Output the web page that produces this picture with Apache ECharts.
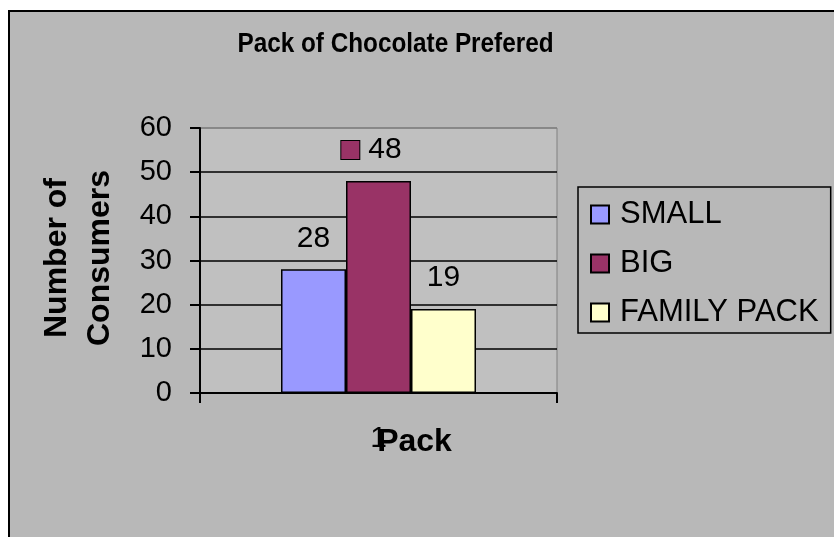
<!DOCTYPE html>
<html>
<head>
<meta charset="utf-8">
<title>Pack of Chocolate Prefered</title>
<script src="https://cdn.jsdelivr.net/npm/echarts@6/dist/echarts.min.js"></script>
<style>
  html, body { margin: 0; padding: 0; background: #ffffff; }
  #chart { width: 834px; height: 537px; }
</style>
</head>
<body>
<div id="chart"></div>
<script>
// Survey results: preferred pack size of chocolate
const categories = ['1'];
const seriesNames = ['SMALL', 'BIG', 'FAMILY PACK'];
const smallValues = [28];
const bigValues = [48];
const familyPackValues = [19];
const seriesColors = ['#9999FF', '#993366', '#FFFFCC'];
const yMin = 0, yMax = 60, yStep = 10;

const FONT = "'Liberation Sans', Arial, sans-serif";

const chart = echarts.init(document.getElementById('chart'), null, { renderer: 'canvas' });

const valueLabel = {
  show: true,
  position: 'top',
  distance: 16,
  color: '#000',
  fontFamily: FONT,
  fontSize: 30
};

function barSeries(name, values, color, label) {
  return {
    name: name,
    type: 'bar',
    data: values,
    barWidth: 65,
    barGap: '0%',
    itemStyle: { color: color, borderColor: '#000', borderWidth: 1.5 },
    label: label,
    emphasis: { disabled: true }
  };
}

// The BIG label carries its legend key in front of the value
const bigLabel = Object.assign({}, valueLabel, {
  formatter: '{k|}{s|}{c}',
  offset: [-7, 0],
  rich: {
    k: { width: 18, height: 18, backgroundColor: seriesColors[1], borderColor: '#000', borderWidth: 1, verticalAlign: 'middle' },
    s: { width: 9 }
  }
});

const option = {
  animation: false,
  backgroundColor: 'transparent',
  graphic: [
    {
      type: 'rect',
      z: -100,
      shape: { x: 9, y: 11, width: 900, height: 600 },
      style: { fill: '#B8B8B8', stroke: '#000', lineWidth: 2 }
    },
    {
      type: 'text',
      z: 100,
      x: 395.5, y: 45,
      scaleX: 0.9,
      style: {
        text: 'Pack of Chocolate Prefered',
        font: 'bold 27px ' + FONT,
        fill: '#000',
        textAlign: 'center',
        textVerticalAlign: 'middle'
      }
    },
    {
      type: 'text',
      z: 100,
      x: 414.5, y: 442,
      style: {
        text: 'Pack',
        font: 'bold 32px ' + FONT,
        fill: '#000',
        textAlign: 'center',
        textVerticalAlign: 'middle'
      }
    },
    {
      type: 'text',
      z: 100,
      x: 79, y: 258,
      rotation: Math.PI / 2,
      style: {
        text: 'Number of\nConsumers',
        font: 'bold 32px ' + FONT,
        lineHeight: 43,
        fill: '#000',
        textAlign: 'center',
        textVerticalAlign: 'middle'
      }
    }
  ],
  grid: {
    left: 200, top: 128, width: 357, height: 265,
    show: true,
    backgroundColor: '#C0C0C0',
    borderColor: '#808080',
    borderWidth: 1
  },
  legend: {
    orient: 'vertical',
    left: 578, top: 187,
    padding: [12, 12, 5, 12],
    itemWidth: 18, itemHeight: 18, itemGap: 18,
    icon: 'rect',
    borderColor: '#000', borderWidth: 1.5,
    backgroundColor: 'transparent',
    selectedMode: false,
    data: seriesNames,
    textStyle: { color: '#000', fontFamily: FONT, fontSize: 31, padding: [0, 0, 0, 6] }
  },
  xAxis: {
    type: 'category',
    data: categories,
    boundaryGap: true,
    axisLine: { show: true, lineStyle: { color: '#000', width: 2 } },
    axisTick: { show: true, length: 10, lineStyle: { color: '#000', width: 2 } },
    axisLabel: { color: '#000', fontFamily: FONT, fontSize: 30, margin: 31 },
    splitLine: { show: false }
  },
  yAxis: {
    type: 'value',
    min: yMin, max: yMax, interval: yStep,
    axisLine: { show: true, lineStyle: { color: '#000', width: 2 } },
    axisTick: { show: true, length: 10, lineStyle: { color: '#000', width: 2 } },
    axisLabel: { color: '#000', fontFamily: FONT, fontSize: 29, margin: 28 },
    splitLine: {
      show: true,
      lineStyle: { color: ['#000', '#000', '#000', '#000', '#000', '#000', '#808080'], width: 1.5 }
    }
  },
  series: [
    barSeries(seriesNames[0], smallValues, seriesColors[0], valueLabel),
    barSeries(seriesNames[1], bigValues, seriesColors[1], bigLabel),
    barSeries(seriesNames[2], familyPackValues, seriesColors[2], valueLabel)
  ]
};

chart.setOption(option);
</script>
</body>
</html>
